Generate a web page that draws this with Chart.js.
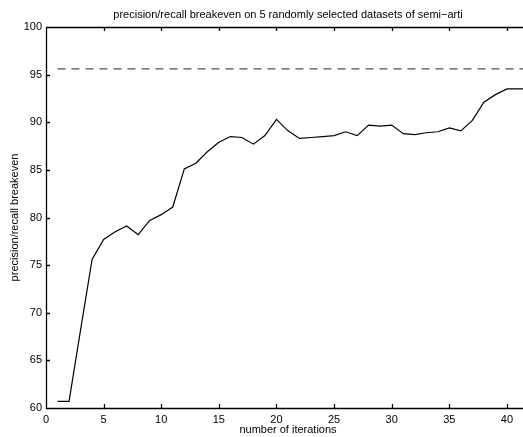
<!DOCTYPE html>
<html lang="en">
<head>
  <meta charset="UTF-8" />
  <title>precision/recall breakeven</title>
  <script src="https://cdn.jsdelivr.net/npm/chart.js"></script>
  <style>
    body {
      margin: 0;
      background: #fff;
      overflow: hidden;
    }
    #wrap {
      width: 523px;
      height: 437px;
      overflow: hidden;
    }
    #box {
      width: 540px;
      height: 437px;
    }
  </style>
</head>
<body>
  <div id="wrap">
    <div id="box"><canvas id="chart"></canvas></div>
  </div>

  <script>
    const titleText = "precision/recall breakeven on 5 randomly selected datasets of semi\u2212arti";
    const xLabel = "number of iterations";
    const yLabel = "precision/recall breakeven";

    // iterations and breakeven values
    const iterations = [1, 2, 3, 4, 5, 6, 7, 8, 9, 10, 11, 12, 13, 14, 15, 16, 17, 18, 19, 20, 21,
      22, 23, 24, 25, 26, 27, 28, 29, 30, 31, 32, 33, 34, 35, 36, 37, 38, 39, 40, 41, 42];
    const breakeven = [60.7, 60.7, 68.2, 75.6, 77.7, 78.5, 79.1, 78.2, 79.7, 80.3, 81.1, 85.1, 85.7,
      86.9, 87.9, 88.5, 88.4, 87.7, 88.6, 90.3, 89.1, 88.3, 88.4, 88.5, 88.6, 89.0, 88.6, 89.7,
      89.6, 89.7, 88.8, 88.7, 88.9, 89.0, 89.4, 89.1, 90.2, 92.1, 92.9, 93.5, 93.5, 93.5];
    // dashed reference level
    const refIterations = [1, 42];
    const refLevel = [95.6, 95.6];

    const xTicks = [0, 5, 10, 15, 20, 25, 30, 35, 40];
    const yTicks = [60, 65, 70, 75, 80, 85, 90, 95, 100];

    const FONT = "'Liberation Sans', Arial, sans-serif";

    // frame, inward tick marks and title like the original plot
    const framePlugin = {
      id: 'frame',
      afterDatasetsDraw(chart) {
        const ctx = chart.ctx;
        const a = chart.chartArea;
        const xs = chart.scales.x, ys = chart.scales.y;
        ctx.save();
        ctx.strokeStyle = '#000';
        ctx.lineWidth = 1.3;
        ctx.beginPath();
        ctx.rect(Math.round(a.left) + 0.5, Math.round(a.top) + 0.5,
          Math.round(a.right - a.left), Math.round(a.bottom - a.top));
        xTicks.forEach(v => {
          const px = Math.round(xs.getPixelForValue(v)) + 0.5;
          ctx.moveTo(px, a.bottom); ctx.lineTo(px, a.bottom - 4);
          ctx.moveTo(px, a.top); ctx.lineTo(px, a.top + 4);
        });
        yTicks.forEach(v => {
          const py = Math.round(ys.getPixelForValue(v)) + 0.5;
          ctx.moveTo(a.left, py); ctx.lineTo(a.left + 4, py);
          ctx.moveTo(a.right, py); ctx.lineTo(a.right - 4, py);
        });
        ctx.stroke();

        ctx.fillStyle = '#000';
        ctx.font = '11px ' + FONT;
        ctx.textAlign = 'center';
        ctx.textBaseline = 'middle';
        ctx.fillText(titleText, (a.left + a.right) / 2, 15);
        ctx.restore();
      }
    };

    new Chart(document.getElementById('chart'), {
      type: 'line',
      data: {
        datasets: [
          {
            data: iterations.map((x, i) => ({ x: x, y: breakeven[i] })),
            borderColor: '#000',
            borderWidth: 1.2,
            pointRadius: 0,
            tension: 0
          },
          {
            data: refIterations.map((x, i) => ({ x: x, y: refLevel[i] })),
            borderColor: '#222',
            borderWidth: 1,
            borderDash: [8, 6],
            pointRadius: 0
          }
        ]
      },
      options: {
        responsive: true,
        maintainAspectRatio: false,
        animation: false,
        layout: { padding: { top: 27, right: 10, left: 0, bottom: 0 } },
        plugins: {
          legend: { display: false },
          tooltip: { enabled: false }
        },
        scales: {
          x: {
            type: 'linear',
            min: 0,
            max: 42,
            grid: { display: false, drawTicks: false },
            border: { display: false },
            afterBuildTicks: s => { s.ticks = xTicks.map(v => ({ value: v })); },
            afterFit: s => { s.height = 29; },
            ticks: { color: '#000', padding: 5, font: { family: FONT, size: 11 }, maxRotation: 0 },
            title: {
              display: true, text: xLabel, color: '#000',
              font: { family: FONT, size: 11 }, padding: { top: 0, bottom: 0 }
            }
          },
          y: {
            min: 60,
            max: 100,
            grid: { display: false, drawTicks: false },
            border: { display: false },
            afterBuildTicks: s => { s.ticks = yTicks.map(v => ({ value: v })); },
            afterFit: s => { s.width = 46; },
            ticks: { color: '#000', padding: 4, font: { family: FONT, size: 11 } },
            title: {
              display: true, text: yLabel, color: '#000',
              font: { family: FONT, size: 11 }, padding: { top: 8, bottom: 0 }
            }
          }
        }
      },
      plugins: [framePlugin]
    });
  </script>
</body>
</html>
